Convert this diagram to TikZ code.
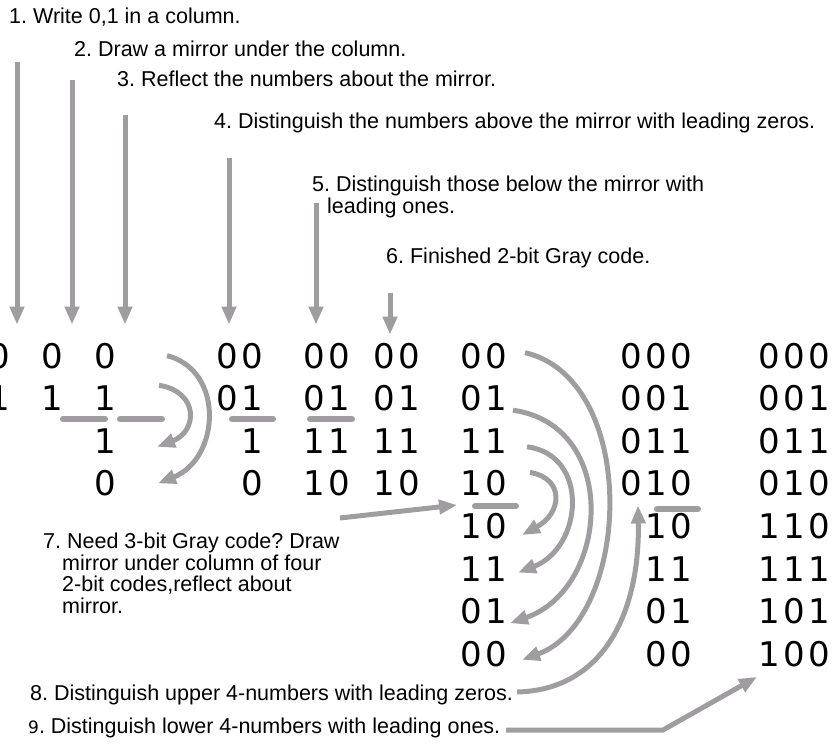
\documentclass[tikz,border=0pt]{standalone}
\usepackage{fontspec}
\setmainfont{Liberation Sans}
\newfontfamily\bitfont[LetterSpace=10]{DejaVu Sans}
\newfontfamily\ninefont{DejaVu Sans}
\usetikzlibrary{arrows.meta,calc}
\definecolor{MirrorGray}{RGB}{160,157,160}
\tikzset{
  bits/.style   ={font=\bitfont\fontsize{34}{40}\selectfont, inner sep=0pt, anchor=base east},
  note/.style   ={font=\frenchspacing\fontsize{21.5}{21.5}\selectfont, inner sep=0pt, anchor=north west, align=left},
  garr/.style   ={-{Triangle[length=18pt,width=14pt]}, draw=MirrorGray, line width=5pt},
  mirror/.style ={draw=MirrorGray, line width=6pt, line cap=round},
}
\newcommand{\bitcol}[3]{%
  \foreach \v [count=\i] in {#3}
    \node[bits] (#1-\i) at (#2,{368+(\i-1)*42.6}) {\v};}

\begin{document}
\begin{tikzpicture}[x=1pt,y=-1pt]
  \useasboundingbox (0,0) rectangle (834,746);

  \node[note] (l1) at (9,8)    {1. Write 0,1 in a column.};
  \node[note] (l2) at (74,41)  {2. Draw a mirror under the column.};
  \node[note] (l3) at (117,71) {3. Reflect the numbers about the mirror.};
  \node[note] (l4) at (214,113) {4. Distinguish the numbers above the mirror with leading zeros.};
  \node[note] (l5) at (312,176) {5. Distinguish those below the mirror with\\\hspace*{15pt}leading ones.};
  \node[note] (l6) at (386,248) {6. Finished 2-bit Gray code.};
  \node[note] (l7) at (43,533) {7. Need 3-bit Gray code? Draw\\\hspace*{19pt}mirror under column of four\\
    \hspace*{19pt}2-bit codes,reflect about\\\hspace*{19pt}mirror.};
  \node[note] (l8) at (30,685) {8. Distinguish upper 4-numbers with leading zeros.};
  \node[note] (l9) at (28,718) {{\ninefont\fontsize{17}{21}\selectfont 9}. Distinguish lower 4-numbers with leading ones.};

  \bitcol{c1}{10}{0,1}
  \bitcol{c2}{63}{0,1}
  \bitcol{c3}{116}{0,1,1,0}
  \bitcol{c4}{263}{00,01,1,0}
  \bitcol{c5}{350}{00,01,11,10}
  \bitcol{c6}{420}{00,01,11,10}
  \bitcol{c7}{507}{00,01,11,10,10,11,01,00}
  \bitcol{c8}{692}{000,001,011,010,10,11,01,00}
  \bitcol{c9}{830}{000,001,011,010,110,111,101,100}

  \draw[mirror] (63,419) -- (105,419);
  \draw[mirror] (120,419) -- (162,419);
  \draw[mirror] (232,419) -- (273,419);
  \draw[mirror] (310,419) -- (352,419);
  \coordinate (m7l) at (475,506);
  \draw[mirror] (m7l) -- (516,506);
  \draw[mirror] (657,509) -- (698,509);

  \coordinate (s1) at (17,62);
  \coordinate (s2) at (72,80);
  \coordinate (s3) at (125,115);
  \coordinate (s4) at (229,158);
  \coordinate (s5) at (316,203);
  \coordinate (s6) at (390,293);
  \draw[garr, shorten >=18pt] (s1) -- (s1 |- c1-1.north);
  \draw[garr, shorten >=18pt] (s2) -- (s2 |- c2-1.north);
  \draw[garr, shorten >=18pt] (s3) -- (s3 |- c3-1.north);
  \draw[garr, shorten >=18pt] (s4) -- (s4 |- c4-1.north);
  \draw[garr, shorten >=18pt] (s5) -- (s5 |- c5-1.north);
  \draw[garr, shorten >=8pt]  (s6) -- (s6 |- c6-1.north);

  \draw[garr] ($(c3-2.east)+(43,-13)$) .. controls +(41,7) and +(40,-15) .. ($(c3-3.east)+(41,6)$);
  \draw[garr] ($(c3-1.east)+(51,0)$) .. controls +(58,15) and +(62,-25) .. ($(c3-4.east)+(42,0)$);

  \draw[garr] ($(c7-4.east)+(23,-11)$) .. controls +(35,6) and +(40,-22) .. ($(c7-5.east)+(15,9)$);
  \draw[garr] ($(c7-3.east)+(20,6)$) .. controls +(63,8) and +(65,-25) .. ($(c7-6.east)+(11,4)$);
  \draw[garr] ($(c7-2.east)+(6,12)$) .. controls +(107,15) and +(100,-35) .. ($(c7-7.east)+(3,12)$);
  \draw[garr] ($(c7-1.east)+(18,-3)$) .. controls +(115,27) and +(110,-40) .. ($(c7-8.east)+(15,6)$);

  \coordinate (p7) at (340,518);
  \draw[garr] (p7) -- ($(m7l)+(-18,-1)$);
  \coordinate (p8) at (517,692);
  \draw[garr] (p8) .. controls (605,690) and (640,610) .. ($(c8-4.south east)+(-54,9)$);
  \coordinate (p9) at (506,730);
  \draw[garr] (p9) -- (663,730) -- ($(c9-8.south east)+(-73,10)$);
\end{tikzpicture}
\end{document}
